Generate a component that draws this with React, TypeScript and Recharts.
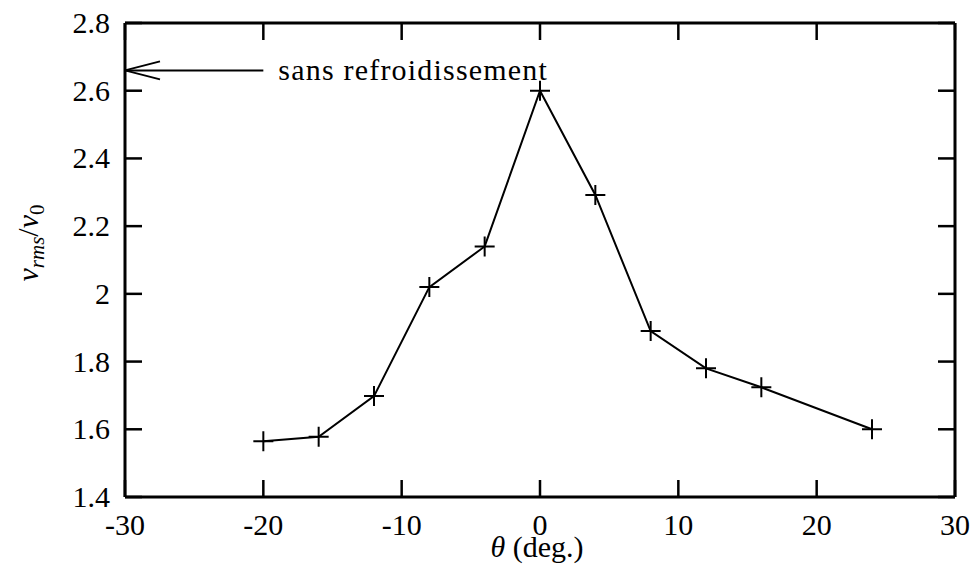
import React from 'react';
import { LineChart, Line, XAxis, YAxis, ReferenceLine } from 'recharts';

const thetaDeg = [-20, -16, -12, -8, -4, 0, 4, 8, 12, 16, 24];
const vrmsRatio = [1.565, 1.578, 1.698, 2.02, 2.14, 2.6, 2.292, 1.89, 1.78, 1.724, 1.6];
const xTicks = [-30, -20, -10, 0, 10, 20, 30];
const yTicks = [1.4, 1.6, 1.8, 2, 2.2, 2.4, 2.6, 2.8];
const noCoolingLevel = 2.66;
const noCoolingSpan = [-30, -20];
const noCoolingText = 'sans refroidissement';

const data = thetaDeg.map((t, i) => ({ theta: t, v: vrmsRatio[i] }));

const FONT = 'Liberation Serif';
const AXIS = { stroke: '#000', strokeWidth: 3 };
const TICK_LEN = 17;
const TICK_W = 2.5;

// inward ticks drawn by hand: tickSize is 0, so the axis line sits tickMargin away from (x, y)
const BottomTick = (props: any) => {
  const { x, y, payload } = props;
  const axisY = y - 17;
  return (
    <g>
      <line x1={x} x2={x} y1={axisY} y2={axisY - TICK_LEN} stroke="#000" strokeWidth={TICK_W} />
      <text x={x} y={axisY + 38} textAnchor="middle" fontSize={30} fill="#000" fontFamily={FONT}>
        {payload.value}
      </text>
    </g>
  );
};

const TopTick = (props: any) => {
  const { x, y } = props;
  return <line x1={x} x2={x} y1={y} y2={y + TICK_LEN} stroke="#000" strokeWidth={TICK_W} />;
};

const LeftTick = (props: any) => {
  const { x, y, payload } = props;
  const axisX = x + 15;
  return (
    <g>
      <line x1={axisX} x2={axisX + TICK_LEN} y1={y} y2={y} stroke="#000" strokeWidth={TICK_W} />
      <text x={axisX - 15} y={y + 10} textAnchor="end" fontSize={30} fill="#000" fontFamily={FONT}>
        {payload.value}
      </text>
    </g>
  );
};

const EmptyTick = () => <g />;

// right-hand frame ticks: short piece at the right end of a horizontal reference line
const RightTickShape = (props: any) => {
  const { x1, x2, y1 } = props;
  const right = Math.max(x1, x2);
  return <line x1={right} x2={right - TICK_LEN} y1={y1} y2={y1} stroke="#000" strokeWidth={TICK_W} />;
};

const PlusDot = (props: any) => {
  const { cx, cy, index } = props;
  if (cx == null || cy == null) return null;
  return (
    <path
      key={index}
      d={`M${cx - 10},${cy} H${cx + 10} M${cx},${cy - 10} V${cy + 10}`}
      stroke="#000"
      strokeWidth={2}
      fill="none"
    />
  );
};

const ArrowShape = (props: any) => {
  const { x1, y1, x2, y2 } = props;
  const left = Math.min(x1, x2);
  const right = Math.max(x1, x2);
  const y = (y1 + y2) / 2;
  return (
    <g>
      <line x1={left} y1={y} x2={right} y2={y} stroke="#000" strokeWidth={2} />
      <path d={`M${left + 35},${y - 9} L${left},${y} L${left + 35},${y + 9}`} stroke="#000" strokeWidth={2} fill="none" />
      <text x={right + 15} y={y + 10} fontSize={30} letterSpacing={1.2} fill="#000" fontFamily={FONT}>
        {noCoolingText}
      </text>
    </g>
  );
};

const YLabel = (props: any) => {
  const vb = props.viewBox || { x: 0, y: 22, width: 125, height: 475 };
  const cx = vb.x + 38;
  const cy = vb.y + vb.height / 2 - 17;
  return (
    <text
      x={cx}
      y={cy}
      transform={`rotate(-90, ${cx}, ${cy})`}
      textAnchor="middle"
      fontSize={30}
      fill="#000"
      fontFamily={FONT}
    >
      <tspan fontStyle="italic">v</tspan>
      <tspan fontStyle="italic" fontSize={21} dy={6}>rms</tspan>
      <tspan dy={-6}>/</tspan>
      <tspan fontStyle="italic">v</tspan>
      <tspan fontSize={21} dy={6}>0</tspan>
    </text>
  );
};

const XLabel = (props: any) => {
  const vb = props.viewBox || { x: 125, y: 497, width: 830, height: 81 };
  return (
    <text x={vb.x + vb.width / 2 - 3} y={vb.y + 60} textAnchor="middle" fontSize={30} fill="#000" fontFamily={FONT}>
      <tspan fontStyle="italic">θ</tspan>
      <tspan> (deg.)</tspan>
    </text>
  );
};

export default function App() {
  return (
    <div style={{ position: 'absolute', left: 0, top: 0, width: 974, height: 578, background: '#fff' }}>
      <LineChart width={974} height={578} data={data} margin={{ top: 22, right: 18, bottom: 0, left: 0 }}>
        <XAxis
          xAxisId="b"
          dataKey="theta"
          type="number"
          domain={[-30, 30]}
          ticks={xTicks}
          height={81}
          axisLine={AXIS}
          tickLine={false}
          tickSize={0}
          tickMargin={17}
          tick={BottomTick}
          label={<XLabel />}
        />
        <XAxis
          xAxisId="t"
          orientation="top"
          dataKey="theta"
          type="number"
          domain={[-30, 30]}
          ticks={xTicks}
          height={1}
          axisLine={AXIS}
          tickLine={false}
          tickSize={0}
          tickMargin={0}
          tick={TopTick}
        />
        <YAxis
          yAxisId="l"
          type="number"
          domain={[1.4, 2.8]}
          ticks={yTicks}
          width={125}
          axisLine={AXIS}
          tickLine={false}
          tickSize={0}
          tickMargin={15}
          tick={LeftTick}
          label={<YLabel />}
        />
        <YAxis
          yAxisId="r"
          orientation="right"
          type="number"
          domain={[1.4, 2.8]}
          ticks={yTicks}
          width={1}
          axisLine={AXIS}
          tickLine={false}
          tickSize={0}
          tick={EmptyTick}
        />
        {yTicks.map((t) => (
          <ReferenceLine key={t} xAxisId="b" yAxisId="l" y={t} shape={RightTickShape} ifOverflow="visible" />
        ))}
        <ReferenceLine
          xAxisId="b"
          yAxisId="l"
          segment={[
            { x: noCoolingSpan[0], y: noCoolingLevel },
            { x: noCoolingSpan[1], y: noCoolingLevel },
          ]}
          shape={ArrowShape}
          ifOverflow="visible"
        />
        <Line
          xAxisId="b"
          yAxisId="l"
          type="linear"
          dataKey="v"
          stroke="#000"
          strokeWidth={2}
          dot={PlusDot}
          activeDot={false}
          isAnimationActive={false}
        />
      </LineChart>
    </div>
  );
}
